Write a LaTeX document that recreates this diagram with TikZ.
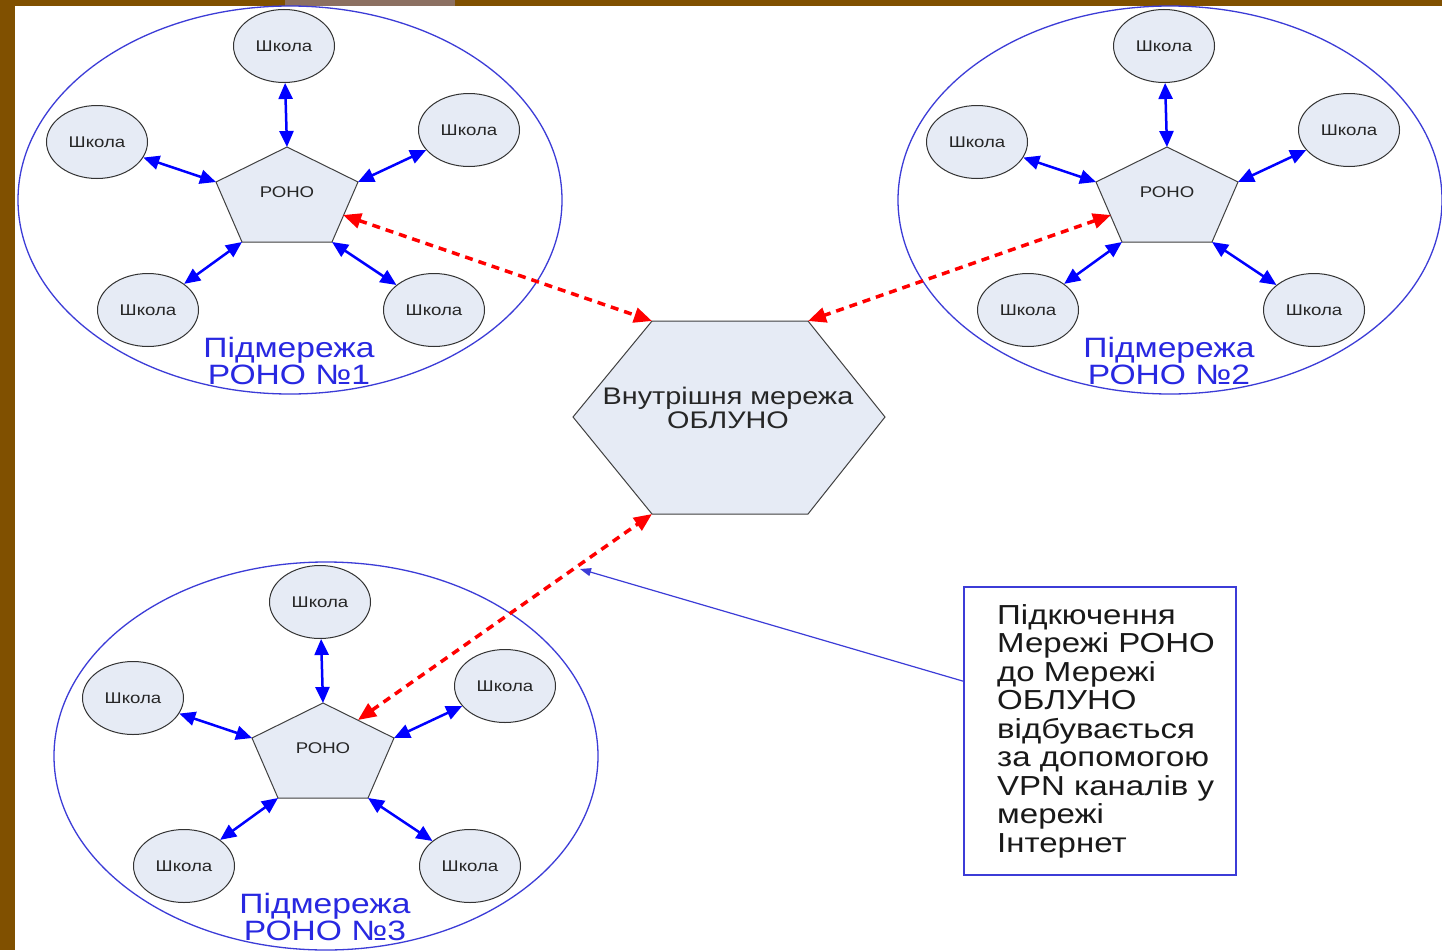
\documentclass[tikz,border=0pt]{standalone}
\usepackage{fontspec}
\setmainfont{Liberation Sans}[FakeStretch=1.2]
\usetikzlibrary{shapes.geometric,arrows.meta,calc}
\definecolor{bgbrown}{RGB}{128,80,0}
\definecolor{bglight}{RGB}{140,112,98}
\definecolor{nodefill}{RGB}{230,235,245}
\definecolor{netblue}{RGB}{60,60,215}
\definecolor{lblblue}{RGB}{40,40,225}
\tikzset{
  school/.style={ellipse,draw=black!80,fill=nodefill,line width=1pt,
    minimum width=101pt,minimum height=73pt,inner sep=0pt,
    font=\fontsize{15.5}{17}\selectfont,text=black!85},
  shapefill/.style={fill=nodefill,draw=black!75,line width=1pt},
  smalltext/.style={font=\fontsize{15.5}{17}\selectfont,text=black!85},
  link/.style={blue,line width=2.5pt,
    {Triangle[length=16pt,width=14pt]}-{Triangle[length=16pt,width=14pt]}},
  vpn/.style={red,line width=3.5pt,dash pattern=on 8pt off 6pt,
    {Triangle[length=18pt,width=15pt]}-{Triangle[length=18pt,width=15pt]}},
  netring/.style={netblue,line width=1.3pt},
  lbl/.style={text=lblblue,align=center,font=\fontsize{28}{27}\selectfont},
  notebox/.style={draw=netblue,line width=2pt,minimum width=272pt,minimum height=288pt},
  notetext/.style={align=left,inner sep=0pt,font=\fontsize{27.5}{28.5}\selectfont,text=black!90},
}
\newcommand\subnet[4]{%
\begin{scope}[shift={(#2,#3)}]
  \draw[netring] (290,200) ellipse [x radius=272,y radius=194];
  \node[school] (#1-top) at (284,46) {Школа};
  \node[school] (#1-left) at (97,142) {Школа};
  \node[school] (#1-right) at (469,130) {Школа};
  \node[school] (#1-ll) at (148,310) {Школа};
  \node[school] (#1-lr) at (434,310) {Школа};
  \draw[shapefill] (287,147) coordinate (#1-pt) -- (358,182) coordinate (#1-pur)
    -- (332,242) coordinate (#1-plr) -- (242,242) coordinate (#1-pll)
    -- (216,182) coordinate (#1-pul) -- cycle;
  \coordinate (#1-vr) at (343,215);
  \coordinate (#1-vl) at (231,215);
  \coordinate (#1-vtr) at (322,164);
  \node[smalltext] (#1-rono) at (287,192) {РОНО};
  \draw[link] (#1-top) -- (#1-pt);
  \draw[link] (#1-left) -- (#1-pul);
  \draw[link] (#1-right) -- (#1-pur);
  \draw[link] (#1-ll) -- (#1-pll);
  \draw[link] (#1-lr) -- (#1-plr);
  \node[lbl] (#1-lbl) at (289,361) {Підмережа\\РОНО №#4};
\end{scope}}
\begin{document}
\begin{tikzpicture}[x=1pt,y=-1pt]
  \useasboundingbox (0,0) rectangle (1442,950);
  \fill[bgbrown] (0,0) rectangle (1442,950);
  \fill[bglight] (285,0) rectangle (455,6);
  \fill[white] (15,6) rectangle (1442,950);
  \subnet{a}{0}{0}{1}
  \subnet{b}{880}{0}{2}
  \subnet{c}{36}{556}{3}
  % central hexagon
  \draw[shapefill] (652,321) coordinate (hex-tl) -- (808,321) coordinate (hex-tr)
    -- (885,417) coordinate (hex-r) -- (808,514) coordinate (hex-br)
    -- (652,514) coordinate (hex-bl) -- (573,417) coordinate (hex-l) -- cycle;
  \node[align=center,font=\fontsize{24}{24}\selectfont,text=black!85] (hex) at (728,408)
    {Внутрішня мережа\\ОБЛУНО};
  \draw[vpn] (a-vr) -- (hex-tl);
  \draw[vpn] (b-vl) -- (hex-tr);
  \draw[vpn] (c-vtr) -- (hex-bl);
  % note
  \node[notebox] (note) at (1100,731) {};
  \node[notetext,anchor=west] (notetext) at (997,731) {Підкючення\\Мережі РОНО\\до Мережі\\ОБЛУНО\\відбувається\\за допомогою\\VPN каналів у\\мережі\\Інтернет};
  \coordinate (callend) at (580,569);
  \draw[netblue,line width=1.2pt,-{Triangle[length=11pt,width=8pt]}] (note.160.6) -- (callend);
\end{tikzpicture}
\end{document}
